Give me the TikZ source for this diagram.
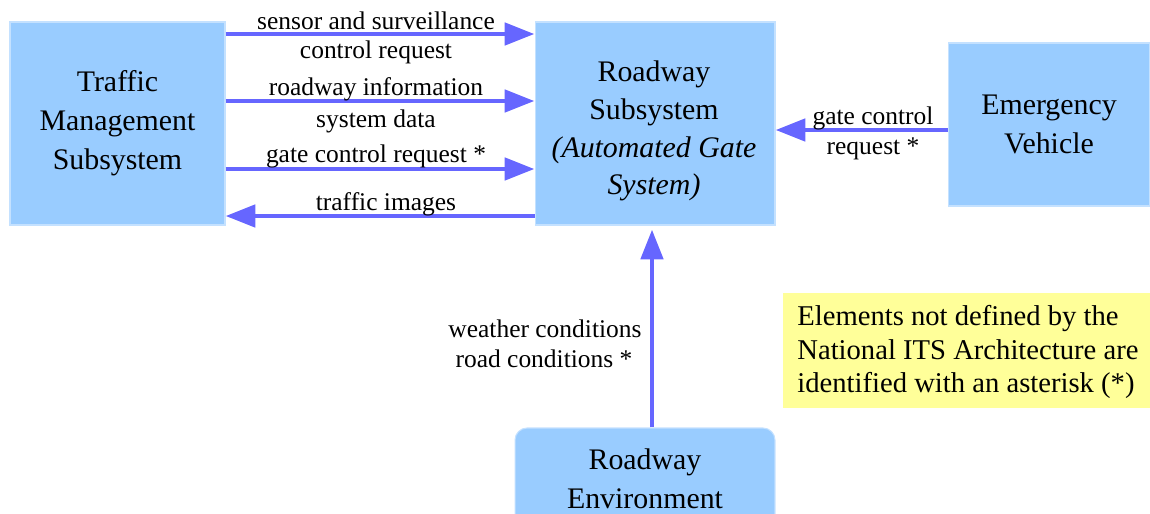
\documentclass[tikz,border=0pt]{standalone}
\usepackage{fontspec}
\setmainfont{Liberation Serif}
\newfontfamily\tnr{Liberation Serif}
\usetikzlibrary{arrows.meta}
\definecolor{boxblue}{HTML}{99CCFF}
\definecolor{boxedge}{HTML}{C4E1FF}
\definecolor{flow}{HTML}{6666FF}
\definecolor{noteyellow}{HTML}{FFFF99}
\begin{document}
\begin{tikzpicture}[x=0.02cm,y=-0.02cm,
  sub/.style={fill=boxblue,draw=boxedge,line width=0.6pt,align=center,
    font=\tnr\fontsize{17}{22.2}\selectfont,inner sep=0pt},
  boxtext/.style={align=center,font=\tnr\fontsize{17}{21.5}\selectfont,inner sep=0pt},
  flowarrow/.style={draw=flow,line width=2.8pt,-{Triangle[length=17pt,width=12.5pt]}},
  lbl/.style={font=\tnr\fontsize{14.5}{17.5}\selectfont,inner sep=0pt,align=center}]
\useasboundingbox (0,0) rectangle (1150,514);
% boxes
\node[sub,minimum width=4.3cm,minimum height=4.06cm] (tms) at (117.5,123.5)
  {Traffic\\Management\\Subsystem};
\node[sub,minimum width=4.8cm,minimum height=4.06cm] (rs) at (655,123.5) {};
\node[boxtext] (rstext) at (654,131)
  {Roadway\\Subsystem\\\textit{(Automated Gate}\\\textit{System)}};
\node[sub,minimum width=4.04cm,minimum height=3.26cm] (ev) at (1049,124.5)
  {Emergency\\Vehicle};
\node[sub,rounded corners=0.24cm,minimum width=5.2cm,minimum height=2.04cm] (re) at (645,479)
  {Roadway\\Environment};
\node[fill=noteyellow,minimum width=7.34cm,minimum height=2.3cm,inner sep=0pt] (note) at (966.5,350.5) {};
\node[anchor=west,align=left,inner sep=0pt,font=\tnr\fontsize{16.3}{19}\selectfont] (notetext) at (797,352)
  {Elements not defined by the\\National ITS Architecture are\\identified with an asterisk (*)};
% arrows TMS <-> RS
\draw[flowarrow] (tms.east |- 0,34) -- (rs.west |- 0,34);
\draw[flowarrow] (tms.east |- 0,101) -- (rs.west |- 0,101);
\draw[flowarrow] (tms.east |- 0,169) -- (rs.west |- 0,169);
\draw[flowarrow] (rs.west |- 0,216) -- (tms.east |- 0,216);
% EV -> RS
\draw[flowarrow] (ev.west |- 0,130) -- (rs.east |- 0,130);
% RE -> RS
\draw[flowarrow] (re.north -| 652,0) -- ([yshift=-4*0.02cm]rs.south -| 652,0);
% labels
\node[lbl] (l1a) at (376,21) {sensor and surveillance};
\node[lbl] (l1b) at (376,52) {control request};
\node[lbl] (l2a) at (376,89) {roadway information};
\node[lbl] (l2b) at (376,121) {system data};
\node[lbl] (l3) at (376,156) {gate control request *};
\node[lbl] (l4) at (386,204) {traffic images};
\node[lbl] (l5a) at (873,118) {gate control};
\node[lbl] (l5b) at (873,149) {request *};
\node[lbl] (l6a) at (545,329) {weather conditions};
\node[lbl] (l6b) at (544,359) {road conditions *};
\end{tikzpicture}
\end{document}
